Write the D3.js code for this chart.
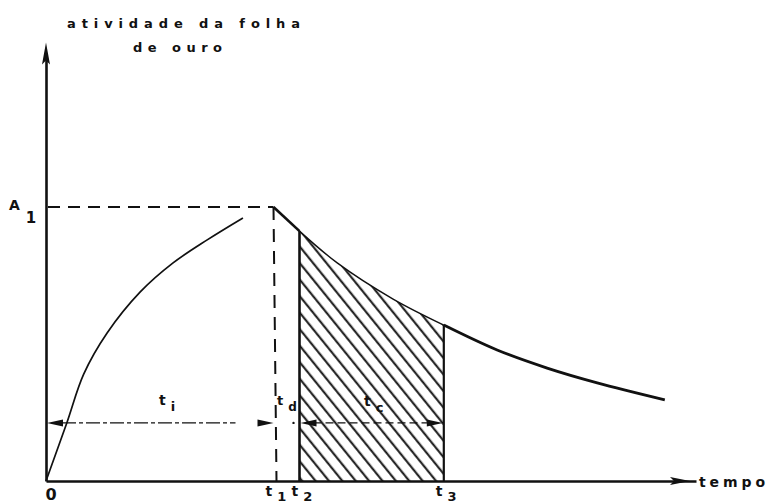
<!DOCTYPE html>
<html>
<head>
<meta charset="utf-8">
<script src="https://cdn.jsdelivr.net/npm/d3@7"></script>
<style>
  html, body { margin: 0; padding: 0; background: #fff; }
  svg { display: block; }
  text { font-family: "DejaVu Sans", sans-serif; font-weight: bold; fill: #111; }
</style>
</head>
<body>
<svg id="chart" width="766" height="504"></svg>
<script>
// Activation of a gold foil: build-up during irradiation (0..t1),
// decay while waiting (t1..t2) and counting interval (t2..t3).

// characteristic times (arbitrary time units)
const tIrr = 3.5;     // t1 : end of irradiation
const tStart = 3.9;   // t2 : start of counting
const tEnd = 6.12;    // t3 : end of counting
const A1 = 1.0;       // activity reached at t1

// build-up of activity during irradiation
const riseTime     = [0, 0.32, 0.58, 0.94, 1.45, 1.95, 2.48, 3.03];
const riseActivity = [0, 0.212, 0.39, 0.54, 0.69, 0.795, 0.88, 0.96];

// decay after irradiation
const decayTime     = [3.5, 3.9, 4.48, 5.34, 6.12, 6.94, 7.71, 8.48, 9.52];
const decayActivity = [1.0, 0.912, 0.796, 0.664, 0.569, 0.478, 0.412, 0.358, 0.296];

// labels
const yTitle = ["atividade da folha", "de ouro"];
const xTitle = "tempo";
const xTickLabels = [
  { t: 0, main: "0", sub: "" },
  { t: tIrr, main: "t", sub: "1" },
  { t: tStart, main: "t", sub: "2" },
  { t: tEnd, main: "t", sub: "3" }
];

const svg = d3.select("#chart");
const x = d3.scaleLinear().domain([0, 10]).range([46, 696]);
const y = d3.scaleLinear().domain([0, 1.6]).range([481, 42.6]);

const rise = riseTime.map((t, i) => ({ t, a: riseActivity[i] }));
const decay = decayTime.map((t, i) => ({ t, a: decayActivity[i] }));

const line = d3.line().x(d => x(d.t)).y(d => y(d.a)).curve(d3.curveCatmullRom.alpha(0.5));

// hatch pattern for the counted interval
const defs = svg.append("defs");
const pat = defs.append("pattern")
  .attr("id", "hatch")
  .attr("patternUnits", "userSpaceOnUse")
  .attr("width", 10.4).attr("height", 20)
  .attr("patternTransform", "rotate(-39)");
pat.append("line")
  .attr("x1", 5).attr("y1", -2).attr("x2", 5).attr("y2", 22)
  .attr("stroke", "#111").attr("stroke-width", 2);

const counted = decay.filter(d => d.t >= tStart && d.t <= tEnd);
const area = d3.area().x(d => x(d.t)).y0(y(0)).y1(d => y(d.a)).curve(d3.curveCatmullRom.alpha(0.5));
svg.append("path").datum(counted)
  .attr("d", area)
  .attr("fill", "url(#hatch)");

// axes (no ticks, plain lines)
svg.append("g")
  .attr("transform", `translate(0,${y(0)})`)
  .call(d3.axisBottom(x).tickValues([]).tickSizeOuter(0))
  .select(".domain").attr("stroke", "#111").attr("stroke-width", 2.6);
svg.append("g")
  .attr("transform", `translate(${x(0)},0)`)
  .call(d3.axisLeft(y.copy().domain([0, 1.52]).range([481, 55])).tickValues([]).tickSizeOuter(0))
  .select(".domain").attr("stroke", "#111").attr("stroke-width", 2.6);

// axis arrowheads
const x0 = x(0), yTop = y(1.6), xRight = x(10) - 6, y0 = y(0);
svg.append("path")
  .attr("d", `M${x0},${yTop} L${x0 + 4},${yTop + 22} L${x0},${yTop + 18} L${x0 - 4},${yTop + 22} Z`)
  .attr("fill", "#111");
svg.append("path")
  .attr("d", `M${xRight},${y0} L${xRight - 20},${y0 - 4} L${xRight - 16},${y0} L${xRight - 20},${y0 + 4} Z`)
  .attr("fill", "#111");

// dashed guides to A1 and t1
svg.append("line")
  .attr("x1", x(0) + 2).attr("y1", y(A1)).attr("x2", x(tIrr)).attr("y2", y(A1))
  .attr("stroke", "#111").attr("stroke-width", 2).attr("stroke-dasharray", "12,8");
svg.append("line")
  .attr("x1", x(tIrr)).attr("y1", y(A1)).attr("x2", x(tIrr) + 3).attr("y2", y(0))
  .attr("stroke", "#111").attr("stroke-width", 2).attr("stroke-dasharray", "13,9");

// build-up curve
svg.append("path").datum(rise)
  .attr("d", line).attr("fill", "none")
  .attr("stroke", "#111").attr("stroke-width", 1.7);

// decay curve: thick outside the counting interval, thin on top of it
const seg1 = decay.filter(d => d.t <= tStart);
const seg2 = counted;
const seg3 = decay.filter(d => d.t >= tEnd);
svg.append("path").datum(seg1).attr("d", line).attr("fill", "none")
  .attr("stroke", "#111").attr("stroke-width", 2.6);
svg.append("path").datum(seg2).attr("d", line).attr("fill", "none")
  .attr("stroke", "#111").attr("stroke-width", 1.4);
svg.append("path").datum(seg3).attr("d", line).attr("fill", "none")
  .attr("stroke", "#111").attr("stroke-width", 2.8);

// boundaries of the counting interval
[[tStart, 0.912, 2.6], [tEnd, 0.569, 2.2]].forEach(([t, a, w]) => {
  svg.append("line")
    .attr("x1", x(t)).attr("y1", y(a)).attr("x2", x(t)).attr("y2", y(0))
    .attr("stroke", "#111").attr("stroke-width", w);
});

// dimension lines for ti, td, tc
const dimY = y(0.212);
function arrowHead(tipX, dir) {
  svg.append("path")
    .attr("d", `M${tipX},${dimY} L${tipX + dir * 16},${dimY - 3.5} L${tipX + dir * 16},${dimY + 3.5} Z`)
    .attr("fill", "#111");
}
svg.append("line")
  .attr("x1", x(0) + 16).attr("y1", dimY).attr("x2", x(tIrr) - 38).attr("y2", dimY)
  .attr("stroke", "#111").attr("stroke-width", 1.1).attr("stroke-dasharray", "14,3,4,3");
arrowHead(x(0) + 1, 1);
arrowHead(x(tIrr), -1);
svg.append("line")
  .attr("x1", x(tStart) + 14).attr("y1", dimY).attr("x2", x(tEnd) - 14).attr("y2", dimY)
  .attr("stroke", "#111").attr("stroke-width", 1.1).attr("stroke-dasharray", "8,4");
arrowHead(x(tStart) + 1, 1);
arrowHead(x(tEnd) - 1, -1);
svg.append("circle").attr("cx", x(tStart) - 6).attr("cy", dimY).attr("r", 1.2).attr("fill", "#111");

function subLabel(px, py, main, sub, size, dy) {
  const t = svg.append("text").attr("x", px).attr("y", py).attr("font-size", size);
  t.append("tspan").text(main);
  if (sub) t.append("tspan").attr("dx", 5).attr("dy", dy || 6).attr("font-size", size - 1).text(sub);
  return t;
}

subLabel(159, 405, "t", "i", 14);
subLabel(277, 405, "t", "d", 13);
subLabel(364, 406, "t", "c", 14);
subLabel(9, 210, "A", "1", 14).select("tspan:last-child").attr("dx", 6).attr("dy", 13).attr("font-size", 15);

// time-axis labels
xTickLabels.forEach(d => {
  if (!d.sub) {
    svg.append("text").attr("x", x(d.t) + 5).attr("y", 500)
      .attr("text-anchor", "middle").attr("font-size", 16).text(d.main);
  } else {
    subLabel(x(d.t) - 8, 496, d.main, d.sub, 14, 5);
  }
});

// axis titles
svg.append("text").attr("x", 67).attr("y", 28).attr("font-size", 13)
  .attr("textLength", 233).attr("lengthAdjust", "spacing").text(yTitle[0]);
svg.append("text").attr("x", 133).attr("y", 52).attr("font-size", 13)
  .attr("textLength", 89).attr("lengthAdjust", "spacing").text(yTitle[1]);
svg.append("text").attr("x", 699).attr("y", 487).attr("font-size", 14)
  .attr("textLength", 66).attr("lengthAdjust", "spacing").text(xTitle);
</script>
</body>
</html>
